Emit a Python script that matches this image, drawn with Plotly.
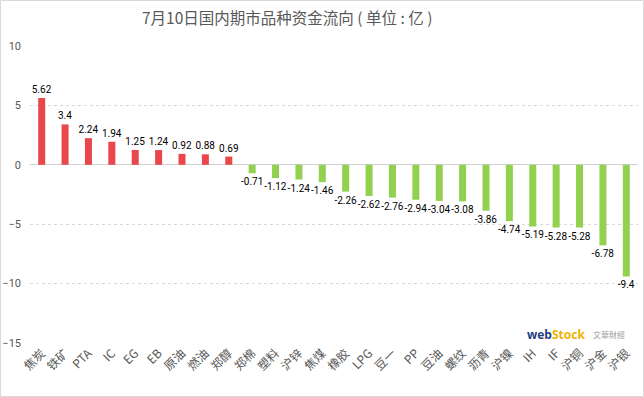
import plotly.graph_objects as go

categories = ["焦炭", "铁矿", "PTA", "IC", "EG", "EB", "原油", "燃油", "郑醇", "郑棉",
              "塑料", "沪锌", "焦煤", "橡胶", "LPG", "豆一", "PP", "豆油", "螺纹", "沥青",
              "沪镍", "IH", "IF", "沪铜", "沪金", "沪银"]
values = [5.62, 3.4, 2.24, 1.94, 1.25, 1.24, 0.92, 0.88, 0.69, -0.71,
          -1.12, -1.24, -1.46, -2.26, -2.62, -2.76, -2.94, -3.04, -3.08, -3.86,
          -4.74, -5.19, -5.28, -5.28, -6.78, -9.4]
y_ticks = [10, 5, 0, -5, -10, -15]
title_text = "7月10日国内期市品种资金流向 ( 单位 : 亿 )"

RED = "#E9474B"
GREEN = "#92D050"
colors = [RED if v >= 0 else GREEN for v in values]
labels = [f"{v:g}" for v in values]

NUMFONT = "Roboto, sans-serif"

fig = go.Figure()
fig.add_trace(go.Bar(
    x=categories, y=values, marker=dict(color=colors, line=dict(width=0)),
    width=0.3, text=labels, textposition="outside", cliponaxis=False,
    constraintext="none", textangle=0,
    textfont=dict(size=10, color="#000000", family=NUMFONT),
    showlegend=False,
))

W, H = 644, 397
L, R, T, B = 30, 6, 46, 54
pw, ph = W - L - R, H - T - B
def px(x): return (x - L) / pw
def py(y): return 1 - (y - T) / ph

fig.update_layout(
    width=W, height=H,
    margin=dict(l=L, r=R, t=T, b=B, pad=0, autoexpand=False),
    paper_bgcolor="white", plot_bgcolor="white",
    font=dict(family="Noto Sans CJK SC, sans-serif", color="#595959"),
    xaxis=dict(tickangle=-45, tickfont=dict(size=12, color="#595959"), automargin=False,
               showgrid=False, showline=False, ticks="", range=[-0.5, 25.5]),
    yaxis=dict(range=[-15, 10], tickvals=y_ticks, showgrid=True, automargin=False,
               gridcolor="#D9D9D9", griddash="dot", gridwidth=1,
               zeroline=True, zerolinecolor="#D0D0D0", zerolinewidth=1,
               tickfont=dict(size=11, color="#595959", family=NUMFONT),
               ticklabelstandoff=8,
               ticks="", showline=False),
    shapes=[dict(type="rect", xref="paper", yref="paper",
                 x0=px(0.5), x1=px(643.5), y0=py(396.5), y1=py(0.5),
                 line=dict(color="#D9D9D9", width=1))],
    annotations=[
        dict(text=title_text, xref="paper", yref="paper", x=px(287), y=py(17),
             xanchor="center", yanchor="middle", showarrow=False,
             font=dict(size=15.5, color="#595959", family="Noto Sans CJK SC, sans-serif")),
        dict(text="<b><span style='color:#1F3F7F'>web</span><span style='color:#F2B200'>Stock</span></b>",
             xref="paper", yref="paper", x=px(587), y=py(334), xanchor="right", yanchor="middle",
             showarrow=False, font=dict(size=12, family="Open Sans, sans-serif")),
        dict(text="文華財經", xref="paper", yref="paper", x=px(591), y=py(334),
             xanchor="left", yanchor="middle", showarrow=False,
             font=dict(size=8, color="#A0A0A0", family="Noto Sans CJK TC, sans-serif")),
    ],
)

fig.write_html("out.html", config={"displayModeBar": False},
               post_script="document.body.style.margin='0';document.body.style.overflow='hidden';")
